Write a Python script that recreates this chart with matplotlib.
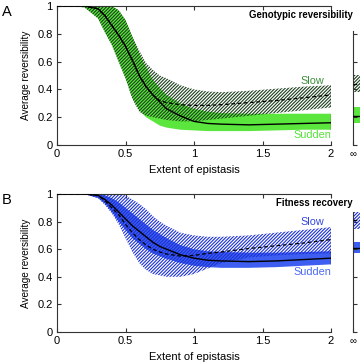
import matplotlib
matplotlib.use("Agg")
import matplotlib.pyplot as plt
import numpy as np

plt.rcParams['font.family'] = ['Liberation Sans', 'DejaVu Sans']
plt.rcParams['hatch.linewidth'] = 0.8

# ---------------- data ----------------
x = [0, 0.1, 0.2, 0.3, 0.35, 0.4, 0.45, 0.5, 0.55, 0.6, 0.65, 0.7, 0.75, 0.8,
     0.9, 1.0, 1.1, 1.2, 1.4, 1.6, 1.8, 2.0]

# Panel A: genotypic reversibility
a_sudden_mean = [1, 1, 1, 0.98, 0.93, 0.86, 0.79, 0.71, 0.61, 0.50, 0.42, 0.36, 0.31, 0.26,
                 0.21, 0.17, 0.155, 0.15, 0.145, 0.15, 0.155, 0.16]
a_sudden_up = [1, 1, 1, 1, 1, 1, 0.97, 0.90, 0.78, 0.66, 0.56, 0.47, 0.41, 0.36,
               0.30, 0.26, 0.24, 0.23, 0.225, 0.225, 0.225, 0.225]
a_sudden_lo = [1, 1, 0.99, 0.91, 0.81, 0.72, 0.60, 0.48, 0.34, 0.25, 0.20, 0.17, 0.14, 0.125,
               0.11, 0.105, 0.10, 0.10, 0.10, 0.105, 0.11, 0.11]
a_slow_mean = [1, 1, 1, 0.98, 0.93, 0.86, 0.79, 0.71, 0.61, 0.50, 0.42, 0.36, 0.32, 0.305,
               0.29, 0.285, 0.285, 0.29, 0.305, 0.32, 0.34, 0.36]
a_slow_up = [1, 1, 1, 1, 1, 1, 0.97, 0.90, 0.78, 0.68, 0.59, 0.54, 0.50, 0.48,
             0.43, 0.40, 0.385, 0.38, 0.39, 0.405, 0.42, 0.43]
a_slow_lo = [1, 1, 0.99, 0.91, 0.81, 0.72, 0.60, 0.48, 0.33, 0.24, 0.21, 0.20, 0.19, 0.18,
             0.17, 0.17, 0.18, 0.19, 0.21, 0.23, 0.25, 0.27]
a_inf_slow = [0.38, 0.44, 0.50]     # lower, mean, upper
a_inf_sudden = [0.16, 0.21, 0.27]

# Panel B: fitness recovery
b_sudden_mean = [1, 1, 1, 0.99, 0.96, 0.92, 0.87, 0.82, 0.77, 0.73, 0.69, 0.65, 0.62, 0.60,
                 0.56, 0.535, 0.52, 0.515, 0.51, 0.515, 0.525, 0.535]
b_sudden_up = [1, 1, 1, 1, 0.99, 0.97, 0.94, 0.90, 0.86, 0.82, 0.78, 0.74, 0.71, 0.68,
               0.63, 0.60, 0.585, 0.58, 0.575, 0.575, 0.58, 0.585]
b_sudden_lo = [1, 1, 1, 0.97, 0.93, 0.87, 0.80, 0.74, 0.68, 0.64, 0.60, 0.57, 0.55, 0.53,
               0.50, 0.48, 0.47, 0.465, 0.465, 0.47, 0.48, 0.49]
b_slow_mean = [1, 1, 1, 0.99, 0.95, 0.90, 0.85, 0.78, 0.72, 0.67, 0.63, 0.60, 0.58, 0.565,
               0.55, 0.555, 0.57, 0.58, 0.605, 0.625, 0.645, 0.67]
b_slow_up = [1, 1, 1, 1, 1, 1, 1, 0.99, 0.96, 0.93, 0.89, 0.84, 0.80, 0.77,
             0.72, 0.70, 0.69, 0.69, 0.70, 0.72, 0.74, 0.76]
b_slow_lo = [1, 1, 1, 0.97, 0.92, 0.86, 0.78, 0.68, 0.58, 0.50, 0.45, 0.42, 0.41, 0.40,
             0.40, 0.42, 0.46, 0.50, 0.54, 0.555, 0.565, 0.57]
b_inf_slow = [0.75, 0.81, 0.87]
b_inf_sudden = [0.57, 0.61, 0.65]

xticks = [0, 0.5, 1, 1.5, 2]
xticklabels = ["0", "0.5", "1", "1.5", "2"]
yticks = [0, 0.2, 0.4, 0.6, 0.8, 1]
yticklabels = ["0", "0.2", "0.4", "0.6", "0.8", "1"]

panels = [
    dict(letter="A", title="Genotypic reversibility",
         s_mean=a_sudden_mean, s_up=a_sudden_up, s_lo=a_sudden_lo,
         w_mean=a_slow_mean, w_up=a_slow_up, w_lo=a_slow_lo,
         inf_w=a_inf_slow, inf_s=a_inf_sudden,
         fill="#5ae63c", hatch_col="#1c3f1c", slow_txt="#3b8f3b", sud_txt="#55e23a",
         top=6, bottom=145, spine_top=0.82,
         slow_lab=81, sud_lab=135),
    dict(letter="B", title="Fitness recovery",
         s_mean=b_sudden_mean, s_up=b_sudden_up, s_lo=b_sudden_lo,
         w_mean=b_slow_mean, w_up=b_slow_up, w_lo=b_slow_lo,
         inf_w=b_inf_slow, inf_s=b_inf_sudden,
         fill="#3d5ef0", hatch_col="#1a30d8", slow_txt="#3346dd", sud_txt="#4a6af0",
         top=194, bottom=332, spine_top=0.87,
         slow_lab=222, sud_lab=272),
]

W, H = 360, 363
fig = plt.figure(figsize=(W / 100, H / 100), dpi=100)

axcol = "#333333"
L, R = 57, 331
HATCH = "//////////"
for p in panels:
    top, bot = p["top"], p["bottom"]
    ax = fig.add_axes([L / W, 1 - bot / H, (R - L) / W, (bot - top) / H])
    ax.set_xlim(0, 2)
    ax.set_ylim(0, 1)
    # sudden band (solid)
    ax.fill_between(x, p["s_lo"], p["s_up"], facecolor=p["fill"], edgecolor="none",
                    linewidth=0, zorder=1)
    # slow band (hatched)
    ax.fill_between(x, p["w_lo"], p["w_up"], facecolor="none", edgecolor=p["hatch_col"],
                    hatch=HATCH, linewidth=0, zorder=2)
    ax.vlines([x[-1]], [p["w_lo"][-1]], [p["w_up"][-1]], color="#222222", lw=0.9, zorder=4)
    ax.vlines([x[-1]], [p["s_lo"][-1]], [p["s_up"][-1]], color="#222222", lw=0.9, zorder=4)
    ax.plot(x, p["w_mean"], color="black", lw=0.9, ls=(0, (3, 2)), zorder=5)
    ax.plot(x, p["s_mean"], color="black", lw=1.0, zorder=5)

    for side in ["left", "bottom", "top"]:
        ax.spines[side].set_color(axcol)
        ax.spines[side].set_linewidth(0.8)
    ax.spines["right"].set_visible(False)
    ax.set_xticks(xticks)
    ax.set_xticklabels(xticklabels)
    ax.set_yticks(yticks)
    ax.set_yticklabels(yticklabels)
    ax.tick_params(direction="in", length=3, width=0.8, color=axcol, labelsize=8,
                   top=True, right=False, pad=3)
    ax.set_xlabel("Extent of epistasis", fontsize=8, labelpad=4)
    ax.set_ylabel("Average reversibility", fontsize=7.2, labelpad=5)

    fig.text(2 / W, 1 - (top - 1) / H, p["letter"], fontsize=10.5, ha="left", va="top")
    fig.text(353 / W, 1 - (top + 9) / H, p["title"], fontsize=6.9, fontweight="bold",
             ha="right", va="center")
    fig.text(312 / W, 1 - p["slow_lab"] / H, "Slow", color=p["slow_txt"], fontsize=7.8,
             ha="center", va="center")
    fig.text(312 / W, 1 - p["sud_lab"] / H, "Sudden", color=p["sud_txt"], fontsize=7.8,
             ha="center", va="center")

    # infinity axis
    ai = fig.add_axes([353 / W, 1 - bot / H, 20 / W, (bot - top) / H])
    ai.set_xlim(0, 1)
    ai.set_ylim(0, 1)
    ai.patch.set_visible(False)
    ai.fill_between([0, 1], [p["inf_s"][0]] * 2, [p["inf_s"][2]] * 2, facecolor=p["fill"],
                    edgecolor="none", linewidth=0, zorder=1)
    ai.fill_between([0, 1], [p["inf_w"][0]] * 2, [p["inf_w"][2]] * 2, facecolor="none",
                    edgecolor=p["hatch_col"], hatch=HATCH, linewidth=0, zorder=2)
    ai.plot([0, 1], [p["inf_s"][1]] * 2, color="black", lw=1.0, zorder=5)
    ai.plot([0, 1], [p["inf_w"][1]] * 2, color="black", lw=0.9, ls=(0, (3, 2)), zorder=5)
    for side in ["top", "right", "bottom"]:
        ai.spines[side].set_visible(False)
    ai.spines["left"].set_bounds(0, p["spine_top"])
    ai.spines["left"].set_color(axcol)
    ai.spines["left"].set_linewidth(0.8)
    ai.set_xticks([0])
    ai.set_xticklabels(["∞"])
    ai.set_yticks([0, 0.2, 0.4, 0.6, 0.8])
    ai.set_yticklabels([])
    ai.tick_params(direction="in", length=3, width=0.8, color=axcol, labelsize=7, pad=3)

fig.savefig("out.png", dpi=100)
